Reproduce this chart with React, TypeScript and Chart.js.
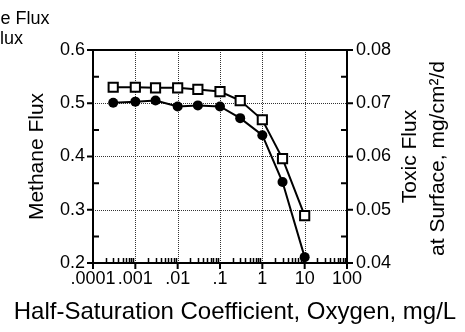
import React, { useEffect, useRef } from "react";
import { Chart, registerables } from "chart.js";

Chart.register(...registerables);

const xValues = [0.0003, 0.001, 0.003, 0.01, 0.03, 0.1, 0.3, 1, 3, 10];
const methaneFlux = [0.501, 0.503, 0.505, 0.494, 0.496, 0.494, 0.472, 0.44, 0.352, 0.211];
const toxicFlux = [0.073, 0.073, 0.0729, 0.0729, 0.0726, 0.0722, 0.0705, 0.0669, 0.0596, 0.0489];

const xTickValues = [0.0001, 0.001, 0.01, 0.1, 1, 10, 100];
const xTickLabels = [".0001", ".001", ".01", ".1", "1", "10", "100"];
const yLeftTicks = [0.2, 0.3, 0.4, 0.5, 0.6];
const yLeftLabels = ["0.2", "0.3", "0.4", "0.5", "0.6"];
const yRightTicks = [0.04, 0.05, 0.06, 0.07, 0.08];
const yRightLabels = ["0.04", "0.05", "0.06", "0.07", "0.08"];

const legendLabels = ["Methane Flux", "Toxic Flux"];
const xTitle = "Half-Saturation Coefficient, Oxygen, mg/L";
const yLeftTitle = "Methane Flux";
const yRightTitle = ["Toxic Flux", "at Surface, mg/cm²/d"];

const FONT = "'Liberation Sans', Arial, Helvetica, sans-serif";

const framePlugin = {
  id: "frame",
  beforeDatasetsDraw(chart: any) {
    const { ctx, chartArea: a, scales } = chart;
    const xs = scales.x;
    const yl = scales.y;
    const yr = scales.y1;
    ctx.save();
    ctx.strokeStyle = "#333";
    ctx.lineWidth = 1;
    ctx.setLineDash([1, 1]);
    for (let i = 1; i < xTickValues.length - 1; i++) {
      const px = Math.round(xs.getPixelForValue(xTickValues[i])) + 0.5;
      ctx.beginPath();
      ctx.moveTo(px, a.top);
      ctx.lineTo(px, a.bottom);
      ctx.stroke();
    }
    for (let i = 1; i < yLeftTicks.length - 1; i++) {
      const py = Math.round(yl.getPixelForValue(yLeftTicks[i])) + 0.5;
      ctx.beginPath();
      ctx.moveTo(a.left, py);
      ctx.lineTo(a.right, py);
      ctx.stroke();
    }
    ctx.setLineDash([]);
    ctx.strokeStyle = "#000";
    ctx.lineWidth = 2;
    ctx.strokeRect(a.left, a.top, a.right - a.left, a.bottom - a.top);
    ctx.beginPath();
    yLeftTicks.forEach((v, i) => {
      const py = yl.getPixelForValue(v);
      ctx.moveTo(a.left - 6, py);
      ctx.lineTo(a.left, py);
      if (i < yLeftTicks.length - 1) {
        const pm = yl.getPixelForValue((v + yLeftTicks[i + 1]) / 2);
        ctx.moveTo(a.left, pm);
        ctx.lineTo(a.left + 6, pm);
      }
    });
    yRightTicks.forEach((v, i) => {
      const py = yr.getPixelForValue(v);
      ctx.moveTo(a.right, py);
      ctx.lineTo(a.right + 6, py);
      if (i < yRightTicks.length - 1) {
        const pm = yr.getPixelForValue((v + yRightTicks[i + 1]) / 2);
        ctx.moveTo(a.right - 6, pm);
        ctx.lineTo(a.right, pm);
      }
    });
    ctx.stroke();
    ctx.beginPath();
    xTickValues.forEach((v) => {
      const px = xs.getPixelForValue(v);
      ctx.moveTo(px, a.bottom);
      ctx.lineTo(px, a.bottom + 6);
    });
    ctx.stroke();
    ctx.lineWidth = 1.5;
    ctx.beginPath();
    for (let i = 0; i < xTickValues.length - 1; i++) {
      for (let m = 2; m <= 9; m++) {
        const px = Math.round(xs.getPixelForValue(xTickValues[i] * m)) + 0.5;
        ctx.moveTo(px, a.bottom);
        ctx.lineTo(px, a.bottom - 5);
      }
    }
    ctx.stroke();
    ctx.restore();
  },
  afterDraw(chart: any) {
    const { ctx, chartArea: a } = chart;
    const cy = (a.top + a.bottom) / 2;
    ctx.save();
    ctx.fillStyle = "#000";
    ctx.textBaseline = "middle";
    ctx.textAlign = "center";
    ctx.font = `24px ${FONT}`;
    ctx.fillText(xTitle, 235, 312);
    ctx.font = `21px ${FONT}`;
    ctx.save();
    ctx.translate(37, cy);
    ctx.rotate(-Math.PI / 2);
    ctx.fillText(yLeftTitle, 0, 0);
    ctx.restore();
    ctx.save();
    ctx.translate(410, cy);
    ctx.rotate(-Math.PI / 2);
    ctx.fillText(yRightTitle[0], 0, 0);
    ctx.restore();
    ctx.save();
    ctx.translate(438, cy + 2);
    ctx.rotate(-Math.PI / 2);
    ctx.fillText(yRightTitle[1], 0, 0);
    ctx.restore();
    ctx.font = `18px ${FONT}`;
    ctx.textAlign = "right";
    ctx.fillText(legendLabels[0], 49.5, 19);
    ctx.fillText(legendLabels[1], 23, 39);
    ctx.restore();
  },
};

export default function App() {
  const ref = useRef<HTMLCanvasElement>(null);
  useEffect(() => {
    const methanePts = xValues.map((x, i) => ({ x, y: methaneFlux[i] }));
    const toxicPts = xValues.map((x, i) => ({ x, y: toxicFlux[i] }));
    const chart = new Chart(ref.current!, {
      type: "scatter",
      data: {
        datasets: [
          {
            label: legendLabels[0],
            data: methanePts,
            yAxisID: "y",
            showLine: true,
            borderColor: "#000",
            backgroundColor: "#000",
            borderWidth: 2,
            pointStyle: "circle",
            pointRadius: 5,
            pointBorderWidth: 0,
          },
          {
            label: legendLabels[1],
            data: toxicPts,
            yAxisID: "y1",
            showLine: true,
            borderColor: "#000",
            backgroundColor: "#fff",
            borderWidth: 2,
            pointStyle: "rect",
            pointRadius: 6.5,
            pointBorderWidth: 2,
          },
          {
            label: "dot",
            data: toxicPts,
            yAxisID: "y1",
            showLine: false,
            borderColor: "#000",
            backgroundColor: "#000",
            pointStyle: "rect",
            pointRadius: 1.4,
            pointBorderWidth: 0,
          },
        ],
      },
      options: {
        animation: false,
        responsive: false,
        devicePixelRatio: 1,
        layout: { padding: { top: 50, left: 0, right: 0, bottom: 0 } },
        plugins: { legend: { display: false }, tooltip: { enabled: false } },
        scales: {
          x: {
            type: "logarithmic",
            min: 0.0001,
            max: 100,
            grid: { display: false, drawTicks: false },
            border: { display: false },
            afterBuildTicks: (s: any) => {
              s.ticks = xTickValues.map((v) => ({ value: v }));
            },
            afterFit: (s: any) => {
              s.height = 332 - 263;
            },
            ticks: {
              autoSkip: false,
              maxRotation: 0,
              minRotation: 0,
              padding: 5,
              color: "#000",
              font: { family: FONT, size: 18 },
              callback: (v: any) => {
                const i = xTickValues.findIndex((t) => Math.abs(t - v) / t < 1e-6);
                return i >= 0 ? xTickLabels[i] : "";
              },
            },
          },
          y: {
            position: "left",
            min: 0.2,
            max: 0.6,
            grid: { display: false, drawTicks: false },
            border: { display: false },
            afterBuildTicks: (s: any) => {
              s.ticks = yLeftTicks.map((v) => ({ value: v }));
            },
            afterFit: (s: any) => {
              s.width = 93;
            },
            ticks: {
              padding: 8,
              color: "#000",
              font: { family: FONT, size: 18 },
              callback: (v: any, i: number) => yLeftLabels[i],
            },
          },
          y1: {
            position: "right",
            min: 0.04,
            max: 0.08,
            grid: { display: false, drawTicks: false },
            border: { display: false },
            afterBuildTicks: (s: any) => {
              s.ticks = yRightTicks.map((v) => ({ value: v }));
            },
            afterFit: (s: any) => {
              s.width = 465 - 347;
            },
            ticks: {
              padding: 9,
              color: "#000",
              font: { family: FONT, size: 18 },
              callback: (v: any, i: number) => yRightLabels[i],
            },
          },
        },
      },
      plugins: [framePlugin],
    });
    return () => chart.destroy();
  }, []);
  return (
    <div style={{ position: "absolute", left: 0, top: 0, width: 465, height: 332, background: "#fff" }}>
      <canvas ref={ref} width={465} height={332} style={{ display: "block", width: 465, height: 332 }} />
    </div>
  );
}
